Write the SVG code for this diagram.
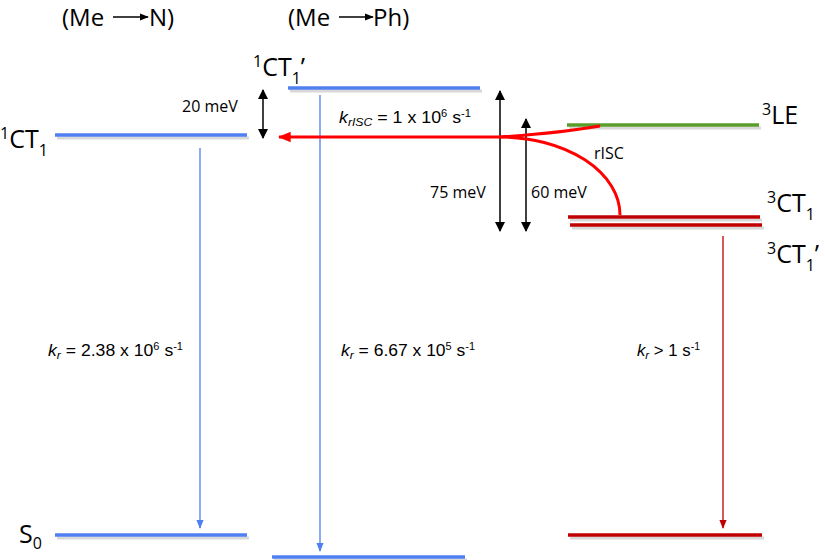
<svg xmlns="http://www.w3.org/2000/svg" width="825" height="560" viewBox="0 0 825 560">
<style>
.big{font-family:"Open Sans","Liberation Sans",sans-serif;font-size:25px;fill:#000}
.hd{font-family:"Open Sans","Liberation Sans",sans-serif;font-size:24px;fill:#000}
.sm{font-family:"Open Sans","Liberation Sans",sans-serif;font-size:16px;fill:#000}
.lab{font-family:"Liberation Sans",sans-serif;font-size:16px;fill:#000}
.blue{stroke:#4f7ff0;stroke-width:3.5;fill:none}
.green{stroke:#5a9e2a;stroke-width:3.5;fill:none}
.dred{stroke:#c00000;stroke-width:3.5;fill:none}
.shadow{stroke:#d8d8d8;stroke-width:3;fill:none}
.dim{stroke:#000;stroke-width:1.5;fill:none;marker-start:url(#ka);marker-end:url(#ka)}
</style>
<defs>
<marker id="ka" viewBox="0 0 10 10" refX="9" refY="5" markerWidth="10" markerHeight="10" orient="auto-start-reverse" markerUnits="userSpaceOnUse"><path d="M0,0 L10,5 L0,10 z" fill="#000"/></marker>
<marker id="ba" viewBox="0 0 10 10" refX="9" refY="5" markerWidth="9" markerHeight="9" orient="auto" markerUnits="userSpaceOnUse"><path d="M0,1 L10,5 L0,9 z" fill="#4f7ff0"/></marker>
<marker id="ra" viewBox="0 0 10 10" refX="9" refY="5" markerWidth="9" markerHeight="9" orient="auto" markerUnits="userSpaceOnUse"><path d="M0,1 L10,5 L0,9 z" fill="#c00000"/></marker>
<marker id="rr" viewBox="0 0 10 10" refX="9" refY="5" markerWidth="13" markerHeight="13" orient="auto" markerUnits="userSpaceOnUse"><path d="M0,1 L10,5 L0,9 z" fill="#ff0000"/></marker>
<marker id="ta" viewBox="0 0 10 10" refX="9" refY="5" markerWidth="9" markerHeight="9" orient="auto" markerUnits="userSpaceOnUse"><path d="M0,1 L10,5 L0,9 z" fill="#000"/></marker>
</defs>

<g id="headers">
<text class="hd" x="62" y="26">(Me</text>
<line x1="113" y1="17" x2="148" y2="17" stroke="#000" stroke-width="1.5" marker-end="url(#ta)"/>
<text class="hd" x="149" y="26">N)</text>
<text class="hd" x="288" y="26">(Me</text>
<line x1="339" y1="17" x2="373" y2="17" stroke="#000" stroke-width="1.5" marker-end="url(#ta)"/>
<text class="hd" x="373" y="26">Ph)</text>
</g>

<g id="CT1">
<line class="shadow" x1="57" y1="138" x2="249" y2="138"/>
<line class="blue" x1="55" y1="135" x2="247" y2="135"/>
<text class="big" x="0" y="148"><tspan font-size="16" dy="-9">1</tspan><tspan dy="9">CT</tspan><tspan font-size="16" dy="8">1</tspan></text>
</g>

<g id="CT1p">
<line class="shadow" x1="290" y1="91" x2="482" y2="91"/>
<line class="blue" x1="288" y1="88" x2="480" y2="88"/>
<text class="big" x="253" y="76"><tspan font-size="16" dy="-9">1</tspan><tspan dy="9">CT</tspan><tspan font-size="16" dy="8">1</tspan><tspan dy="-8">’</tspan></text>
</g>

<g id="LE3">
<line class="shadow" x1="569" y1="128" x2="761" y2="128"/>
<line class="green" x1="567" y1="125" x2="759" y2="125"/>
<text class="big" x="762" y="124"><tspan font-size="16" dy="-9">3</tspan><tspan dy="9">LE</tspan></text>
</g>

<g id="CT3">
<line class="shadow" x1="570" y1="220" x2="762" y2="220"/>
<line class="dred" x1="568" y1="217" x2="760" y2="217"/>
<text class="big" x="767" y="212"><tspan font-size="16" dy="-9">3</tspan><tspan dy="9">CT</tspan><tspan font-size="16" dy="8">1</tspan></text>
</g>

<g id="CT3p">
<line class="shadow" x1="572" y1="228" x2="764" y2="228"/>
<line class="dred" x1="570" y1="225" x2="762" y2="225"/>
<text class="big" x="767" y="263"><tspan font-size="16" dy="-9">3</tspan><tspan dy="9">CT</tspan><tspan font-size="16" dy="8">1</tspan><tspan dy="-8">’</tspan></text>
</g>

<g id="S0a">
<line class="shadow" x1="57" y1="538" x2="249" y2="538"/>
<line class="blue" x1="55" y1="535" x2="247" y2="535"/>
<text class="big" x="19" y="543">S<tspan font-size="16" dy="6">0</tspan></text>
</g>

<g id="S0b">
<line class="shadow" x1="274" y1="560" x2="467" y2="560"/>
<line class="blue" x1="272" y1="557" x2="465" y2="557"/>
</g>

<g id="S0c">
<line class="shadow" x1="570" y1="538" x2="764" y2="538"/>
<line class="dred" x1="568" y1="535" x2="762" y2="535"/>
</g>

<g id="connectors">
<line x1="200" y1="148" x2="200" y2="528" stroke="#4f7ff0" stroke-width="1.3" marker-end="url(#ba)"/>
<line x1="320" y1="95" x2="320" y2="551" stroke="#4f7ff0" stroke-width="1.3" marker-end="url(#ba)"/>
<line x1="723" y1="236" x2="723" y2="528" stroke="#c00000" stroke-width="1.3" marker-end="url(#ra)"/>
<line class="dim" x1="263" y1="90" x2="263" y2="138"/>
<line class="dim" x1="500" y1="91" x2="500" y2="231"/>
<line class="dim" x1="526" y1="119" x2="526" y2="231"/>
<path d="M500,137 L279,137" stroke="#ff0000" stroke-width="3" fill="none" marker-end="url(#rr)"/>
<path d="M600,126 Q560,133 500,137" stroke="#ff0000" stroke-width="3" fill="none"/>
<path d="M620,215 A120,78 0 0 0 500,137" stroke="#ff0000" stroke-width="3" fill="none"/>
</g>

<g id="labels">
<text class="sm" x="182" y="112">20 meV</text>
<text class="sm" x="430" y="198">75 meV</text>
<text class="sm" x="531" y="198">60 meV</text>
<text class="sm" x="594" y="159">rISC</text>
<text class="lab" x="339" y="123" textLength="132" lengthAdjust="spacingAndGlyphs"><tspan font-style="italic">k</tspan><tspan font-style="italic" font-size="11" dy="3">rISC</tspan><tspan dy="-3"> = 1 x 10</tspan><tspan font-size="10" dy="-6">6</tspan><tspan dy="6"> s</tspan><tspan font-size="10" dy="-6">-1</tspan></text>
<text class="lab" x="48" y="356" textLength="135" lengthAdjust="spacingAndGlyphs"><tspan font-style="italic">k</tspan><tspan font-style="italic" font-size="11" dy="3">r</tspan><tspan dy="-3"> = 2.38 x 10</tspan><tspan font-size="10" dy="-6">6</tspan><tspan dy="6"> s</tspan><tspan font-size="10" dy="-6">-1</tspan></text>
<text class="lab" x="341" y="356" textLength="134" lengthAdjust="spacingAndGlyphs"><tspan font-style="italic">k</tspan><tspan font-style="italic" font-size="11" dy="3">r</tspan><tspan dy="-3"> = 6.67 x 10</tspan><tspan font-size="10" dy="-6">5</tspan><tspan dy="6"> s</tspan><tspan font-size="10" dy="-6">-1</tspan></text>
<text class="lab" x="637" y="356" textLength="63" lengthAdjust="spacingAndGlyphs"><tspan font-style="italic">k</tspan><tspan font-style="italic" font-size="11" dy="3">r</tspan><tspan dy="-3"> &gt; 1 s</tspan><tspan font-size="10" dy="-6">-1</tspan></text>
</g>
</svg>
